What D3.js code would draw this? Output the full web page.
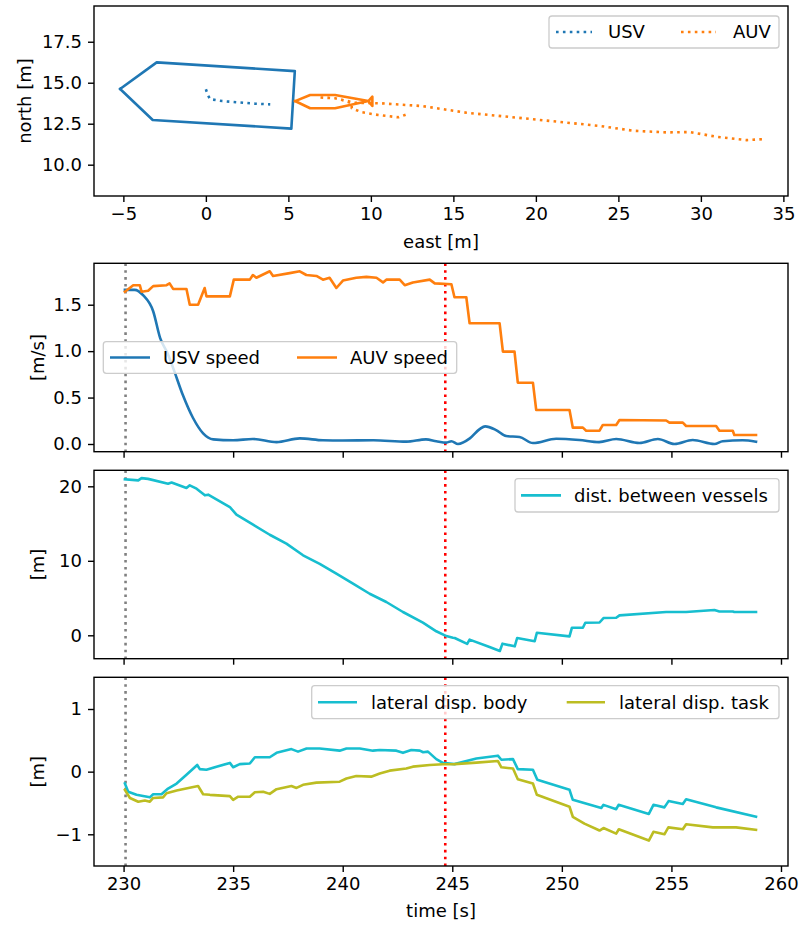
<!DOCTYPE html>
<html>
<head>
<meta charset="utf-8">
<script src="https://cdn.jsdelivr.net/npm/d3@7"></script>
<style>
  body { margin: 0; background: #fff; }
  svg text { font-family: "DejaVu Sans", sans-serif; }
</style>
</head>
<body>
<svg id="drawing_region"></svg>
<script>
// ---- data ----
// top panel: outlines and tracks in [east, north] metres
const usvHull = [[-5.2,14.62],[-2.98,16.24],[5.39,15.71],[5.18,12.2],[-3.22,12.73],[-5.2,14.62]];
const auvHull = [[5.41,13.88],[6.32,14.25],[7.83,14.25],[9.85,13.88],[10.09,14.15],[10.09,13.58],[9.85,13.88],[7.83,13.44],[6.32,13.44],[5.41,13.88]];
const usvTrack = [[0.0,14.6],[0.1,14.3],[0.25,14.0],[1.0,13.88],[2.0,13.8],[3.0,13.72],[3.9,13.68]];
const auvTrack = [[33.7,11.55],[32.78,11.5],[30.96,11.7],[29.35,11.99],[27.93,11.97],[25.9,12.07],[23.9,12.36],
  [19.85,12.77],[15.8,13.17],[13.08,13.58],[10.66,13.74],[9.04,13.78],[7.83,14.05],[6.82,14.11],
  [7.83,14.05],[8.44,13.9],[8.84,13.74],[8.84,13.44],[9.45,13.2],[10.45,13.03],[11.67,12.89],[12.17,13.07]];

// time series: [time s, value]
const usvSpeed = [[230.06,1.66],[230.5,1.66],[230.9,1.6],[231.35,1.43],[231.67,1.14],[232.0,0.98],[232.26,0.82],
  [232.7,0.53],[233.17,0.28],[233.63,0.115],[234.09,0.05],[235.0,0.04],[235.9,0.054],[236.98,0.02],[238.04,0.06],
  [239.1,0.04],[240.0,0.037],[241.4,0.04],[242.9,0.025],[243.8,0.05],[244.27,0.03],[244.73,0.015],[244.96,0.03],
  [245.26,0.0],[245.8,0.06],[246.25,0.16],[246.5,0.19],[247.0,0.15],[247.46,0.086],[248.07,0.075],[248.68,0.01],
  [249.74,0.057],[250.8,0.043],[251.7,0.02],[252.48,0.053],[253.54,0.01],[254.38,0.053],[255.14,0.0],[255.97,0.043],
  [256.96,0.0],[257.34,0.03],[258.25,0.04],[258.86,0.025]];
const auvSpeed = [[230.06,1.64],[230.44,1.71],[230.74,1.71],[230.82,1.64],[231.12,1.65],[231.35,1.70],[231.96,1.71],
  [232.1,1.73],[232.26,1.67],[232.87,1.67],[233.02,1.50],[233.4,1.50],[233.7,1.68],[233.78,1.59],[234.85,1.59],
  [235.03,1.77],[235.76,1.77],[235.9,1.82],[236.06,1.79],[236.67,1.86],[236.82,1.81],[237.58,1.84],[238.04,1.86],
  [238.34,1.82],[238.8,1.81],[239.1,1.77],[239.4,1.79],[239.71,1.68],[240.01,1.76],[240.62,1.79],[241.08,1.80],
  [241.54,1.79],[241.84,1.74],[241.99,1.77],[242.6,1.77],[242.83,1.71],[243.2,1.74],[243.97,1.77],[244.2,1.73],
  [244.96,1.72],[245.1,1.58],[245.64,1.58],[245.79,1.30],[247.16,1.30],[247.31,0.995],[247.84,0.995],[247.99,0.66],
  [248.68,0.66],[248.83,0.366],[250.35,0.366],[250.5,0.176],[250.96,0.176],[251.11,0.143],[251.72,0.143],
  [251.87,0.205],[252.48,0.205],[252.63,0.259],[254.76,0.253],[254.91,0.23],[255.52,0.23],[255.67,0.194],
  [257.04,0.194],[257.19,0.143],[257.8,0.143],[257.87,0.097],[258.86,0.097]];
const distance = [[230.06,20.94],[230.67,20.8],[230.82,21.1],[231.12,21.0],[232.03,20.35],[232.19,20.5],[232.87,19.77],
  [233.02,20.13],[233.33,19.68],[233.71,18.79],[233.86,18.88],[234.85,17.22],[235.15,16.19],[235.91,14.85],
  [236.67,13.5],[237.43,12.3],[238.19,10.74],[238.95,9.6],[239.71,8.27],[240.47,6.93],[241.23,5.58],[241.99,4.47],
  [242.75,3.13],[243.66,1.69],[244.27,0.54],[244.73,-0.1],[245.03,-0.32],[245.11,-0.36],[245.68,-1.15],[245.79,-0.58],
  [246.7,-1.57],[247.17,-2.1],[247.29,-1.12],[247.85,-1.48],[247.96,-0.36],[248.76,-0.8],[248.86,0.35],[250.35,-0.14],
  [250.46,1.02],[250.96,1.02],[251.07,1.69],[251.72,1.72],[251.9,2.32],[252.48,2.36],[252.63,2.68],[254.76,3.13],
  [255.67,3.13],[256.96,3.4],[257.19,3.2],[257.8,3.2],[257.87,3.13],[258.86,3.13]];
const latBody = [[230.06,-0.19],[230.21,-0.32],[230.59,-0.37],[230.89,-0.39],[231.2,-0.41],[231.35,-0.36],[231.73,-0.36],
  [232.03,-0.27],[232.42,-0.19],[232.87,-0.05],[233.36,0.107],[233.48,0.04],[233.78,0.03],[234.24,0.08],[234.85,0.14],
  [235.0,0.07],[235.3,0.12],[235.76,0.13],[235.99,0.23],[236.67,0.23],[236.98,0.30],[237.66,0.36],[237.96,0.32],
  [238.35,0.37],[238.95,0.37],[239.86,0.335],[240.17,0.37],[240.78,0.37],[241.38,0.335],[241.69,0.345],[242.45,0.335],
  [242.75,0.30],[243.13,0.345],[243.52,0.335],[243.67,0.31],[243.89,0.32],[244.27,0.20],[244.57,0.14],[245.1,0.12],
  [246.1,0.21],[247.08,0.255],[247.24,0.19],[247.77,0.2],[247.99,0.04],[248.68,0.03],[248.88,-0.13],[250.35,-0.29],
  [250.5,-0.45],[251.8,-0.58],[251.9,-0.53],[252.48,-0.6],[252.59,-0.53],[253.97,-0.675],[254.18,-0.53],[254.68,-0.57],
  [254.87,-0.47],[255.52,-0.515],[255.67,-0.44],[257.04,-0.57],[258.86,-0.72]];
const latTask = [[230.06,-0.29],[230.29,-0.42],[230.67,-0.48],[230.97,-0.46],[231.2,-0.48],[231.35,-0.42],[231.8,-0.41],
  [231.96,-0.345],[232.42,-0.30],[233.4,-0.23],[233.63,-0.36],[233.94,-0.37],[234.85,-0.39],[235.0,-0.45],[235.23,-0.40],
  [235.76,-0.40],[235.99,-0.33],[236.37,-0.32],[236.67,-0.355],[236.98,-0.28],[237.66,-0.23],[237.89,-0.26],
  [238.19,-0.21],[238.8,-0.175],[239.86,-0.16],[240.17,-0.11],[240.62,-0.07],[241.3,-0.08],[241.69,-0.03],
  [242.14,0.016],[242.9,0.05],[243.2,0.08],[243.97,0.107],[244.57,0.118],[245.1,0.12],[246.1,0.144],[247.08,0.17],
  [247.24,0.07],[247.77,0.05],[247.99,-0.12],[248.68,-0.19],[248.86,-0.37],[250.35,-0.56],[250.5,-0.72],[251.03,-0.83],
  [251.72,-0.94],[251.9,-0.9],[252.48,-0.99],[252.6,-0.92],[253.97,-1.1],[254.18,-0.96],[254.68,-1.0],[254.86,-0.89],
  [255.52,-0.92],[255.67,-0.84],[256.89,-0.89],[257.95,-0.89],[258.86,-0.93]];

const eventStart = 230.09;   // grey dotted line
const eventDock = 244.68;    // red dotted line

const eastTicks = [-5, 0, 5, 10, 15, 20, 25, 30, 35];
const northTicks = [10.0, 12.5, 15.0, 17.5];
const timeTicks = [230, 235, 240, 245, 250, 255, 260];
const speedTicks = [0.0, 0.5, 1.0, 1.5];
const distTicks = [0, 10, 20];
const latTicks = [-1, 0, 1];

// ---- drawing ----
const W = 807, H = 926;
const FS = 18;
const C = { blue: '#1f77b4', orange: '#ff7f0e', cyan: '#17becf', olive: '#bcbd22' };
const DOT = '2.6,4.3';
const svg = d3.select('#drawing_region').attr('width', W).attr('height', H);
const left = 94, right = 788;
const minus = s => s.replace('-', '\u2212');

function panel(top, bottom, xdom, ydom, xticks, yticks, xfmt, yfmt, showX) {
    const g = svg.append('g');
    const x = d3.scaleLinear().domain(xdom).range([left, right]);
    const y = d3.scaleLinear().domain(ydom).range([bottom, top]);
    const clipId = 'c' + Math.round(top);
    svg.append('clipPath').attr('id', clipId).append('rect')
        .attr('x', left).attr('y', top).attr('width', right - left).attr('height', bottom - top);
    const plot = g.append('g').attr('clip-path', `url(#${clipId})`);
    const xa = g.append('g').attr('transform', `translate(0,${bottom})`)
        .call(d3.axisBottom(x).tickValues(xticks).tickSize(6).tickPadding(5)
            .tickFormat(showX ? (d => minus(xfmt(d))) : () => ''));
    const ya = g.append('g').attr('transform', `translate(${left},0)`)
        .call(d3.axisLeft(y).tickValues(yticks).tickSize(6).tickPadding(6).tickFormat(d => minus(yfmt(d))));
    [xa, ya].forEach(a => {
        a.select('.domain').remove();
        a.selectAll('line').attr('stroke', '#000').attr('stroke-width', 1.4);
        a.selectAll('text').attr('font-size', FS).attr('fill', '#000')
            .attr('font-family', '"DejaVu Sans", sans-serif');
    });
    g.append('rect').attr('x', left).attr('y', top).attr('width', right - left).attr('height', bottom - top)
        .attr('fill', 'none').attr('stroke', '#000').attr('stroke-width', 1.4);
    return { plot, x, y, top, bottom, g };
}

function drawLine(p, data, color, dashed, curve) {
    const line = d3.line().x(d => p.x(d[0])).y(d => p.y(d[1])).curve(curve || d3.curveLinear);
    p.plot.append('path').datum(data).attr('d', line)
        .attr('fill', 'none').attr('stroke', color).attr('stroke-width', 2.6)
        .attr('stroke-linejoin', 'round').attr('stroke-linecap', dashed ? 'butt' : 'square')
        .attr('stroke-dasharray', dashed ? DOT : null);
}

function vlines(p) {
    [[eventStart, '#808080'], [eventDock, '#ff0000']].forEach(([t, col]) => {
        p.plot.append('line').attr('x1', p.x(t)).attr('x2', p.x(t)).attr('y1', p.top).attr('y2', p.bottom)
            .attr('stroke', col).attr('stroke-width', 2.6).attr('stroke-dasharray', DOT);
    });
}

function legend(box, items) {
    const g = svg.append('g');
    g.append('rect').attr('x', box[0]).attr('y', box[1]).attr('width', box[2] - box[0]).attr('height', box[3] - box[1])
        .attr('rx', 3).attr('fill', '#fff').attr('fill-opacity', 0.8).attr('stroke', '#cccccc').attr('stroke-width', 1.3);
    const cy = (box[1] + box[3]) / 2;
    items.forEach(it => {
        g.append('line').attr('x1', it.x0).attr('x2', it.x1).attr('y1', cy).attr('y2', cy)
            .attr('stroke', it.color).attr('stroke-width', 2.6).attr('stroke-dasharray', it.dashed ? DOT : null);
        g.append('text').attr('x', it.tx).attr('y', cy).attr('dy', '0.35em').attr('font-size', FS).text(it.label);
    });
}

function ylabel(text, cx, cy) {
    svg.append('text').attr('transform', `translate(${cx},${cy}) rotate(-90)`).attr('text-anchor', 'middle')
        .attr('dy', '0.35em').attr('font-size', FS).text(text);
}

// panel 1: positions
const p1 = panel(6, 196, [-6.78, 35.28], [8.09, 19.68], eastTicks, northTicks, d3.format('d'), d3.format('.1f'), true);
drawLine(p1, usvHull, C.blue, false);
drawLine(p1, usvTrack, C.blue, true);
drawLine(p1, auvHull, C.orange, false);
drawLine(p1, auvTrack, C.orange, true);
legend([549, 16, 779, 48], [
    { x0: 556, x1: 592, tx: 608, color: C.blue, dashed: true, label: 'USV' },
    { x0: 681, x1: 716, tx: 733, color: C.orange, dashed: true, label: 'AUV' }]);
svg.append('text').attr('x', (left + right) / 2).attr('y', 241.5).attr('dy', '0.35em')
    .attr('text-anchor', 'middle').attr('font-size', FS).text('east [m]');
ylabel('north [m]', 25, 101);

// panel 2: speeds
const tdom = [228.65, 260.32];
const p2 = panel(263.3, 451.7, tdom, [-0.083, 1.946], timeTicks, speedTicks, d3.format('d'), d3.format('.1f'), false);
vlines(p2);
drawLine(p2, usvSpeed, C.blue, false, d3.curveMonotoneX);
drawLine(p2, auvSpeed, C.orange, false);
legend([103.3, 341.7, 456.7, 373.3], [
    { x0: 110, x1: 150, tx: 163, color: C.blue, label: 'USV speed' },
    { x0: 297, x1: 337, tx: 350, color: C.orange, label: 'AUV speed' }]);
ylabel('[m/s]', 38, (263.3 + 451.7) / 2);

// panel 3: distance
const p3 = panel(470.3, 658.7, tdom, [-3.14, 22.15], timeTicks, distTicks, d3.format('d'), d3.format('d'), false);
vlines(p3);
drawLine(p3, distance, C.cyan, false);
legend([515, 478.7, 779, 512], [
    { x0: 521, x1: 561, tx: 574, color: C.cyan, label: 'dist. between vessels' }]);
ylabel('[m]', 38, (470.3 + 658.7) / 2);

// panel 4: lateral displacement
const p4 = panel(677.3, 866, tdom, [-1.506, 1.506], timeTicks, latTicks, d3.format('d'), d3.format('d'), true);
vlines(p4);
drawLine(p4, latBody, C.cyan, false);
drawLine(p4, latTask, C.olive, false);
legend([311.7, 685.7, 779, 718.7], [
    { x0: 318, x1: 357, tx: 371, color: C.cyan, label: 'lateral disp. body' },
    { x0: 566.7, x1: 605, tx: 619, color: C.olive, label: 'lateral disp. task' }]);
ylabel('[m]', 38, (677.3 + 866) / 2);
svg.append('text').attr('x', (left + right) / 2).attr('y', 911).attr('dy', '0.35em')
    .attr('text-anchor', 'middle').attr('font-size', FS).text('time [s]');
</script>
</body>
</html>
